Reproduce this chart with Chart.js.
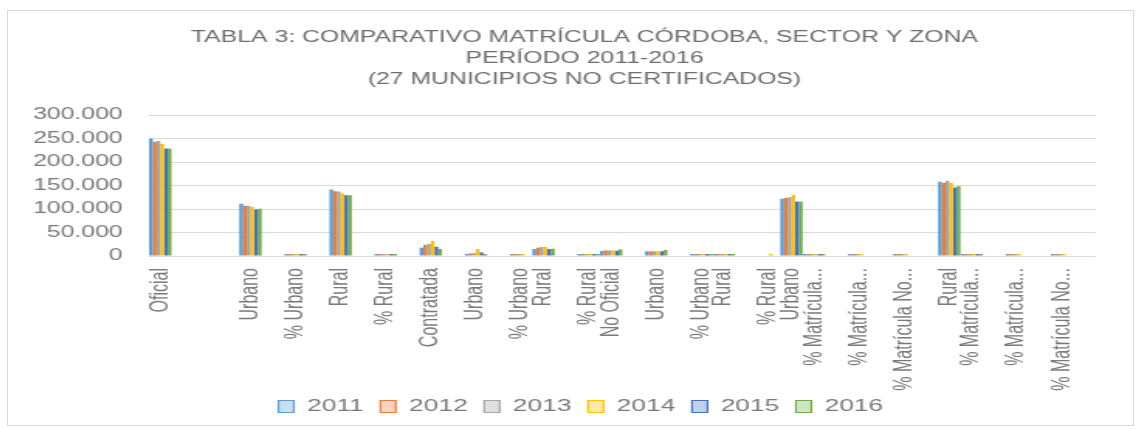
<!DOCTYPE html>
<html>
<head>
<meta charset="utf-8">
<script src="https://cdn.jsdelivr.net/npm/chart.js@4/dist/chart.umd.min.js"></script>
<style>
  body { margin: 0; background: #fff; }
  #wrap { position: absolute; left: 7px; top: 10px; width: 1125px; height: 414px; border: 1px solid #d9d9d9; }
</style>
</head>
<body>
<div id="wrap">
  <canvas id="myChart" width="726" height="414" style="width:1125px;height:414px"></canvas>
</div>
<script>
let categories = ['Oficial', '', '', '', 'Urbano', '', '% Urbano', '', 'Rural', '', '% Rural', '',
  'Contratada', '', 'Urbano', '', '% Urbano', 'Rural', '', '% Rural', 'No Oficial', '',
  'Urbano', '', '% Urbano', 'Rural', '', '% Rural', 'Urbano', '% Matrícula...', '',
  '% Matrícula...', '', '% Matrícula No...', '', 'Rural', '% Matrícula...', '',
  '% Matrícula...', '', '% Matrícula No...', ''];

let years = ['2011', '2012', '2013', '2014', '2015', '2016'];

let y2011 = [250000, null, null, null, 111400, null, 0.44, null, 141400, null, 0.56, null,
  17700, null, 2000, null, 0.11, 14900, null, 0.89, 10600, null,
  10000, null, 0.94, 600, null, null, 122000, 0.47, null,
  0.5, null, 0.5, null, 158000, 0.53, null, 0.5, null, 0.5, null];
let y2012 = [242800, null, null, null, 107100, null, 0.44, null, 137900, null, 0.56, null,
  23400, null, 5700, null, 0.24, 17700, null, 0.76, 12000, null,
  10000, null, 0.93, 700, null, null, 123600, 0.46, null,
  0.5, null, 0.5, null, 155700, 0.54, null, 0.5, null, 0.5, null];
let y2013 = [245000, null, null, null, 106400, null, 0.44, null, 137100, null, 0.56, null,
  25500, null, 6000, null, 0.25, 19100, null, 0.75, 12000, null,
  10000, null, 0.93, 700, null, null, 125000, 0.46, null,
  0.5, null, 0.5, null, 160000, 0.54, null, 0.5, null, 0.5, null];
let y2014 = [238600, null, null, null, 104300, null, 0.44, null, 132900, null, 0.56, null,
  31900, null, 14900, null, 0.44, 19100, null, 0.56, 12000, null,
  10000, null, 0.93, 700, null, 0.4, 130000, 0.46, null,
  0.5, null, 0.5, null, 155700, 0.54, null, 0.5, null, 0.5, null];
let y2015 = [228600, null, null, null, 99300, null, 0.43, null, 129300, null, 0.57, null,
  19800, null, 7800, null, null, 14900, null, 0.65, 11300, null,
  10000, null, 0.9, 800, null, null, 115700, 0.45, null,
  null, null, null, null, 145700, 0.55, null, null, null, null, null];
let y2016 = [228600, null, null, null, 100700, null, 0.44, null, 129300, null, 0.56, null,
  14900, null, 2800, null, null, 15600, null, 0.85, 14200, null,
  12900, null, 0.9, 800, null, null, 115700, 0.44, null,
  null, null, null, null, 148600, 0.56, null, null, null, null, null];

let colors = ['#5B9BD5', '#ED7D31', '#A5A5A5', '#FFC000', '#4472C4', '#70AD47'];
let lightColors = ['#C9DDF1', '#F9D3BA', '#E0E0E0', '#FFE9A6', '#C3D1EE', '#CFE6C0'];

let series = [y2011, y2012, y2013, y2014, y2015, y2016];

let datasets = years.map(function (year, i) {
  return {
    label: year,
    data: series[i],
    backgroundColor: colors[i],
    borderWidth: 0,
    categoryPercentage: 0.99,
    barPercentage: 1,
    minBarLength: 2
  };
});

let textGray = '#7a7a7a';
let font = 'Liberation Sans, Arial, sans-serif';

let ctx = document.getElementById('myChart').getContext('2d');

let chart = new Chart(ctx, {
  type: 'bar',
  data: {
    labels: categories,
    datasets: datasets
  },
  options: {
    responsive: false,
    devicePixelRatio: 1,
    animation: false,
    layout: {
      padding: { left: 26, right: 8, top: 0, bottom: 0 }
    },
    plugins: {
      title: {
        display: true,
        text: ['TABLA 3: COMPARATIVO MATRÍCULA CÓRDOBA, SECTOR Y ZONA',
               'PERÍODO 2011-2016',
               '(27 MUNICIPIOS NO CERTIFICADOS)'],
        color: '#6e6e6e',
        font: { family: font, size: 16, weight: 'normal', lineHeight: 1.3125 },
        padding: { top: 16.5, bottom: 24.5 }
      },
      legend: {
        position: 'bottom',
        labels: {
          color: textGray,
          font: { family: font, size: 17 },
          boxWidth: 10,
          boxHeight: 12,
          padding: 6,
          generateLabels: function (chart) {
            let items = Chart.defaults.plugins.legend.labels.generateLabels(chart);
            items.forEach(function (item, i) {
              item.text = item.text + ' ';
              item.fillStyle = lightColors[i];
              item.strokeStyle = colors[i];
              item.lineWidth = 1.2;
            });
            return items;
          }
        }
      },
      tooltip: { enabled: false }
    },
    scales: {
      x: {
        grid: { display: false, drawTicks: false },
        border: { color: '#d9d9d9' },
        ticks: {
          autoSkip: false,
          minRotation: 90,
          maxRotation: 90,
          padding: 12,
          color: textGray,
          font: { family: font, size: 16 }
        },
        afterFit: function (scale) { scale.height = 136; }
      },
      y: {
        min: 0,
        max: 300000,
        grid: { color: '#d9d9d9', drawTicks: false },
        border: { display: false },
        ticks: {
          stepSize: 50000,
          padding: 17,
          color: textGray,
          font: { family: font, size: 16 },
          callback: function (value) {
            return String(value).replace(/\B(?=(\d{3})+(?!\d))/g, '.');
          }
        },
        afterFit: function (scale) {
          scale.width = 65;
          // let the tick labels run past the left edge of the axis box
          scale._computeLabelArea = function () { return undefined; };
        }
      }
    }
  }
});
</script>
</body>
</html>
